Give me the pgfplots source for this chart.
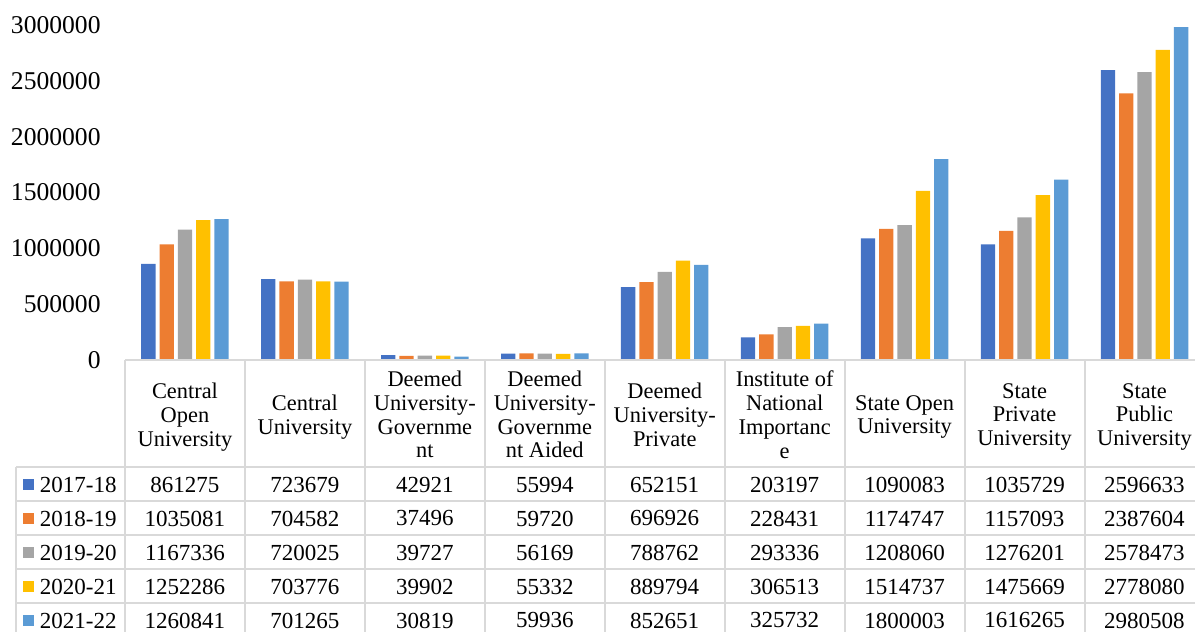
\documentclass[border=0pt]{standalone}
\usepackage{fontspec}
\setmainfont{Liberation Serif}
\usepackage{pgfplots}
\usepackage{pgfplotstable}
\pgfplotsset{compat=1.18}
\definecolor{c1}{HTML}{4472C4}
\definecolor{c2}{HTML}{ED7D31}
\definecolor{c3}{HTML}{A5A5A5}
\definecolor{c4}{HTML}{FFC000}
\definecolor{c5}{HTML}{5B9BD5}
\definecolor{gridc}{HTML}{D9D9D9}

\pgfplotstableread{
cat a b c d e
0 861275 1035081 1167336 1252286 1260841
1 723679 704582 720025 703776 701265
2 42921 37496 39727 39902 30819
3 55994 59720 56169 55332 59936
4 652151 696926 788762 889794 852651
5 203197 228431 293336 306513 325732
6 1090083 1174747 1208060 1514737 1800003
7 1035729 1157093 1276201 1475669 1616265
8 2596633 2387604 2578473 2778080 2980508
}\datatable

\newcommand{\tbl}{\fontsize{11.5pt}{11.75pt}\selectfont}
\newcommand{\hdr}{\fontsize{11.2pt}{11.9pt}\selectfont}

\begin{document}
\begin{tikzpicture}
\useasboundingbox (0,0) rectangle (597.5pt,316pt);
\clip (0,0) rectangle (597.5pt,316pt);
\begin{axis}[
  at={(62.5pt,136pt)}, anchor=south west,
  scale only axis, width=539.75pt, height=167.5pt,
  xmin=-0.5, xmax=8.5, ymin=0, ymax=3000000,
  axis line style={draw=none},
  xtick=\empty,
  ytick={0,500000,1000000,1500000,2000000,2500000,3000000},
  major tick length=0pt,
  scaled y ticks=false,
  yticklabel style={/pgf/number format/.cd, fixed, 1000 sep={}, assume math mode=true,
    /tikz/.cd, font=\fontsize{12.8pt}{14pt}\selectfont, inner sep=0pt, xshift=-12pt},
  bar width=7.15pt,
  clip=false,
]
\addplot[ybar, fill=c1, draw=none, bar shift=-18.3pt] table[x=cat,y=a]{\datatable};
\addplot[ybar, fill=c2, draw=none, bar shift=-9.15pt] table[x=cat,y=b]{\datatable};
\addplot[ybar, fill=c3, draw=none, bar shift=0pt] table[x=cat,y=c]{\datatable};
\addplot[ybar, fill=c4, draw=none, bar shift=9.15pt] table[x=cat,y=d]{\datatable};
\addplot[ybar, fill=c5, draw=none, bar shift=18.3pt] table[x=cat,y=e]{\datatable};
\end{axis}

\begin{scope}[x=0.5pt, y=-0.5pt, shift={(0,316pt)}]
  % table grid
  \draw[gridc, line width=1pt] (125,360.5) -- (1215,360.5);
  \foreach \yy in {467.5,501.5,535.5,569.5,603.5,637.5}
    \draw[gridc, line width=1pt] (16,\yy) -- (1215,\yy);
  \draw[gridc, line width=1pt] (16,467.5) -- (16,645);
  \foreach \k in {0,...,9}
    \draw[gridc, line width=1pt] ({125+119.94*\k},360.5) -- ({125+119.94*\k},645);
  % headers
  \foreach \c/\t in {0/{Central\\Open\\University},
                     1/{Central\\University},
                     2/{Deemed\\University-\\Governme\\nt},
                     3/{Deemed\\University-\\Governme\\nt Aided},
                     4/{Deemed\\University-\\Private},
                     5/{Institute of\\National\\Importanc\\e},
                     6/{State Open\\University},
                     7/{State\\Private\\University},
                     8/{State\\Public\\University}}
    \node[align=center, font=\hdr, inner sep=0pt, text depth=0pt] at ({125+119.94*(\c+0.5)},414.5) {\t};
  % legend column
  \foreach \cc/\lab [count=\r from 0] in {c1/2017-18, c2/2018-19, c3/2019-20, c4/2020-21, c5/2021-22}{
    \fill[\cc] (23,{484.5+34*\r-5.5}) rectangle (34,{484.5+34*\r+5.5});
    \node[anchor=west, font=\tbl, inner sep=0pt] at (39.5,{484.5+34*\r}) {\lab};
  }
  % values
  \foreach \col [count=\r from 0] in {a,b,c,d,e}{
    \foreach \c in {0,...,8}{
      \pgfplotstablegetelem{\c}{\col}\of\datatable
      \node[font=\tbl, inner sep=0pt] at ({125+119.94*(\c+0.5)},{484.5+34*\r}) {\pgfplotsretval};
    }
  }
\end{scope}
\end{tikzpicture}
\end{document}
